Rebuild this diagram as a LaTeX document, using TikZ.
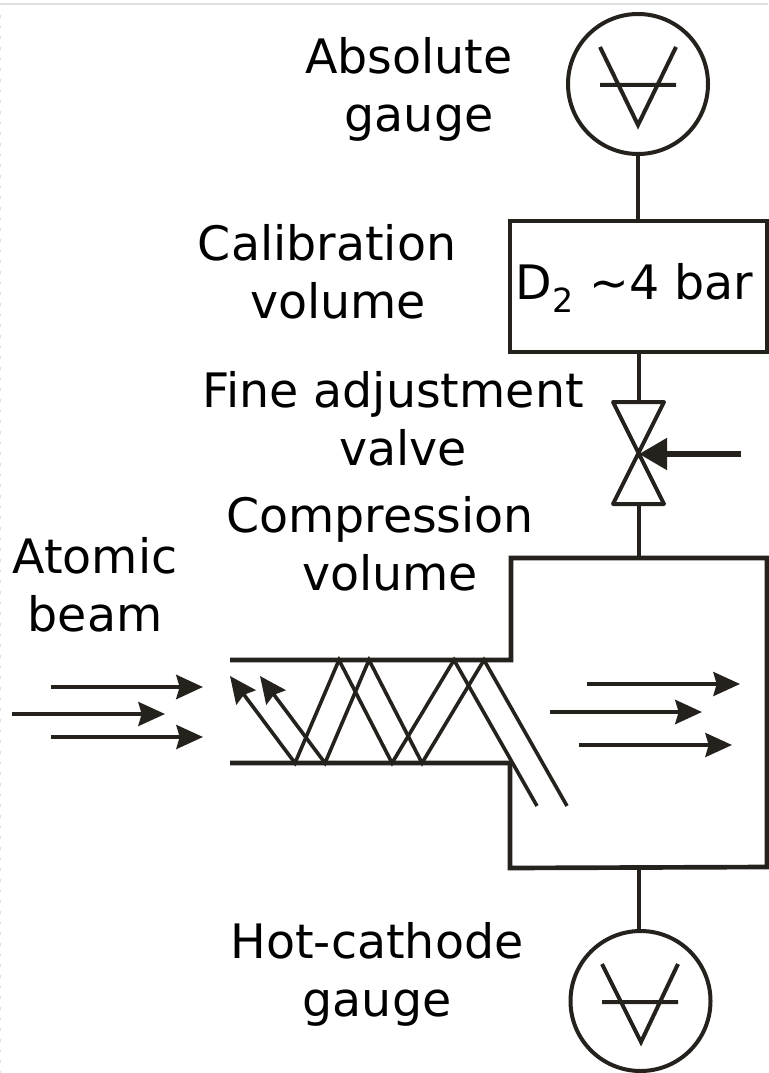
\documentclass[tikz,border=0pt]{standalone}
\usepackage{fontspec}
\setmainfont{DejaVu Sans}
\usetikzlibrary{arrows.meta}
\definecolor{ink}{HTML}{25221E}
\tikzset{
  x=0.75pt,y=-0.75pt,
  pipe/.style={draw=ink,line width=3.5pt,line join=miter},
  thin pipe/.style={draw=ink,line width=3.2pt},
  ray/.style={draw=ink,line width=2.7pt,line join=miter},
  headtip/.style={-{Stealth[length=20pt,width=18pt,inset=2.5pt]}},
  beam/.style={draw=ink,line width=2.6pt,headtip},
  thick beam/.style={draw=ink,line width=3.4pt,headtip},
  lbl/.style={font=\fontsize{35.6}{43.5}\selectfont,text=black,align=center,inner sep=0pt},
  gaugeface/.style={circle,draw=ink,line width=3pt,minimum size=105pt,inner sep=0pt,outer sep=0pt},
}
\begin{document}
\begin{tikzpicture}
\useasboundingbox (0,0) rectangle (768,1073);
\fill[white] (0,0) rectangle (768,1073);
\draw[black!12,line width=2pt] (0,4) -- (768,4);
\draw[black!12,line width=1pt,dash pattern=on 2pt off 6pt] (0.5,15) -- (0.5,1073);

\node[gaugeface] (g1) at (638,84) {};
\node[gaugeface] (g2) at (640.5,1001) {};
\node[draw=ink,line width=3.2pt,minimum width=192.75pt,minimum height=98.25pt,inner sep=0pt,outer sep=0pt,anchor=north west] (cal) at (510,221) {};
\node[lbl,anchor=base] (d2) at (634.5,299) {D\textsubscript{2} \textasciitilde 4 bar};

\coordinate (vt) at (639,402);
\coordinate (vb) at (639,504);
\coordinate (vc) at (639,454);
\coordinate (boxtop) at (639,558);
\coordinate (boxbot) at (639,868);

\draw[thin pipe] (g1.south) -- (g1.south |- cal.north);
\draw[thin pipe] (639,352) -- (vt);
\draw[thin pipe] (vb) -- (boxtop);
\draw[thin pipe] (boxbot) -- (g2.north -| boxbot);

\draw[pipe,line width=3pt,line join=round] (613,402) -- (664,402) -- (613,504) -- (664,504) -- cycle;
\coordinate (arrowtail) at (741,454);
\draw[draw=ink,line width=4.5pt,-{Triangle[length=21pt,width=23pt]}] (arrowtail) -- (vc);

\draw[pipe] (230,660) -- (511,660) -- (511,558) -- (767,558) -- (767,867) -- (510,868) -- (510,763) -- (230,763);

\draw[ray,headtip] (537,806) -- (454,660) -- (392,763) -- (339,660) -- (295,763) -- (230,676);
\draw[ray,headtip] (567,806) -- (484,660) -- (422,763) -- (369,660) -- (325,763) -- (260,676);

\draw[thick beam] (51,687) -- (203,687);
\draw[beam] (12,714) -- (165,714);
\draw[beam] (51,737) -- (203,737);
\draw[beam] (587,684) -- (740,684);
\draw[thick beam] (550,712) -- (702,712);
\draw[beam] (579,745) -- (732,745);

\draw[ray,line width=3pt] (600,85) -- (676,85) (600,47) -- (638,125) -- (676,47);
\draw[ray,line width=3pt] (602,1002) -- (678,1002) (602,964) -- (641,1042) -- (678,964);

\node[lbl] (t1) at (409,89) {Absolute\\\hspace*{15pt}gauge};
\node[lbl] (t2) at (327,272) {Calibration\\\hspace*{16.5pt}volume};
\node[lbl] (t3) at (393,419) {Fine adjustment\\\hspace*{15pt}valve};
\node[lbl] (t4) at (380,544) {Compression\\\hspace*{15pt}volume};
\node[lbl] (t5) at (95,585) {Atomic\\beam};
\node[lbl] (t6) at (377,974) {Hot-cathode\\gauge};
\end{tikzpicture}
\end{document}
